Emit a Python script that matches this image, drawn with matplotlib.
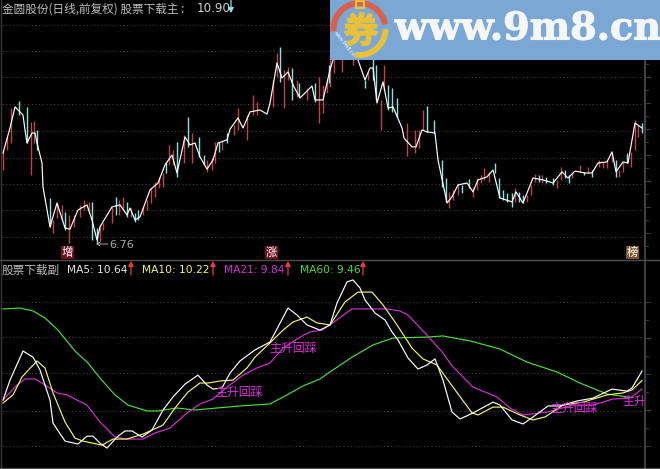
import matplotlib
matplotlib.use('Agg')
import matplotlib.pyplot as plt
import matplotlib.patheffects as pe
from matplotlib.patches import Rectangle, Wedge

plt.rcParams['font.family'] = ['Noto Sans CJK SC', 'DejaVu Sans']

# Price line (bar position, close)
close_x = [3, 10, 15, 23, 25, 27, 32, 35, 37, 42, 43, 50, 57, 65, 70, 78, 87, 92, 97, 100,
           112, 120, 127, 130, 135, 140, 150, 158, 165, 172, 177, 185, 190, 195, 200, 207, 213, 218, 227, 230,
           238, 243, 250, 260, 267, 270, 277, 282, 288, 293, 300, 312, 315, 323, 330, 336, 343, 350, 358, 365,
           370, 373, 377, 383, 388, 393, 402, 404, 412, 416, 422, 427, 435, 438, 447, 452, 458, 467, 473, 478,
           487, 493, 500, 512, 516, 523, 533, 543, 553, 562, 568, 575, 585, 592, 598, 607, 612, 616, 623, 628,
           635, 642]
close = [10.00, 10.90, 11.66, 11.37, 10.83, 10.36, 10.72, 10.72, 10.36, 9.64, 8.78, 7.34, 8.20, 7.30, 7.26, 7.95, 8.13, 7.59, 6.87, 7.34,
         8.06, 8.13, 7.77, 8.02, 7.59, 7.70, 8.67, 8.92, 9.57, 9.93, 9.28, 10.58, 10.29, 10.36, 9.86, 9.42, 9.75, 10.36, 10.47, 10.86,
         11.26, 10.90, 11.48, 11.55, 11.40, 11.80, 13.24, 12.70, 12.92, 12.45, 11.98, 12.41, 11.91, 11.91, 12.99, 13.71, 14.25, 14.00, 13.35, 12.63,
         13.06, 13.06, 11.80, 12.56, 11.62, 11.66, 10.90, 10.54, 10.22, 10.22, 10.83, 10.76, 10.72, 9.75, 8.20, 8.42, 8.85, 8.92, 8.60, 9.03,
         9.14, 9.39, 8.38, 8.24, 8.60, 8.20, 9.10, 9.03, 8.92, 9.32, 9.10, 9.35, 9.28, 9.28, 9.64, 9.68, 10.04, 9.32, 9.68, 9.64,
         11.08, 10.90]

# Up bars
red_x = [3, 7, 11, 31, 34, 53, 57, 62, 69, 74, 80, 84, 89, 100, 103, 112, 119, 123, 131, 143, 147, 151, 155, 159, 163,
         169, 173, 184, 192, 207, 212, 215, 222, 234, 238, 247, 253, 257, 273, 277, 284, 288, 297, 307, 319, 323, 327,
         330, 334, 342, 353, 368, 381, 384, 407, 415, 419, 423, 449, 453, 458, 473, 477, 481, 484, 489, 515, 527, 531,
         535, 542, 557, 561, 572, 580, 588, 599, 603, 607, 612, 619, 623, 631, 635, 638]
red_high = [10.11, 10.58, 11.62, 11.12, 11.15, 7.59, 8.20, 8.13, 7.77, 7.77, 8.13, 8.31, 8.24, 7.41, 7.48, 8.06, 8.31, 8.42, 8.02, 8.06, 8.31, 8.74, 8.96, 9.14, 9.28,
            10.29, 10.11, 10.65, 10.72, 9.75, 9.82, 10.40, 10.47, 11.01, 11.62, 11.37, 12.09, 11.84, 12.63, 13.60, 12.99, 13.10, 12.63, 12.34, 12.74, 12.45, 12.70,
            13.53, 13.71, 14.43, 14.07, 12.92, 11.91, 13.17, 11.08, 10.83, 10.83, 11.55, 8.60, 8.67, 8.92, 8.78, 9.10, 9.21, 9.46, 9.32, 8.74, 8.49, 8.85,
            9.25, 9.21, 9.03, 9.50, 9.32, 9.57, 9.50, 9.75, 9.68, 9.75, 10.04, 9.39, 9.68, 10.04, 11.19, 11.01]
red_low = [9.39, 10.11, 10.36, 9.21, 10.36, 7.12, 7.66, 7.59, 6.76, 7.34, 7.70, 7.95, 7.84, 6.80, 7.23, 7.48, 7.77, 7.95, 7.70, 7.77, 7.95, 8.20, 8.42, 8.74, 8.78,
           9.57, 9.57, 9.64, 9.64, 9.32, 9.39, 9.64, 10.11, 10.65, 10.83, 10.47, 11.37, 11.37, 11.66, 12.74, 11.62, 12.63, 12.02, 11.91, 11.08, 11.44, 12.16,
           12.38, 12.88, 12.92, 13.17, 12.63, 10.83, 12.27, 9.89, 10.00, 10.18, 10.83, 8.02, 8.31, 8.49, 8.42, 8.67, 8.92, 9.03, 8.96, 8.24, 8.24, 8.49,
           8.96, 8.92, 8.74, 9.03, 9.10, 9.32, 9.28, 9.50, 9.46, 9.46, 9.68, 9.14, 9.32, 9.50, 10.11, 10.58]

# Down bars
cyan_x = [19, 27, 37, 50, 65, 92, 97, 116, 127, 135, 138, 166, 177, 188, 199, 204, 219, 227,
          280, 292, 299, 315, 329, 365, 373, 376, 388, 392, 397, 427, 434, 442, 446, 462, 469,
          495, 499, 503, 507, 512, 519, 523, 539, 546, 553, 565, 569, 584, 592, 616, 627, 642]
cyan_high = [11.87, 11.66, 10.83, 8.38, 7.88, 8.24, 7.30, 8.42, 8.24, 7.84, 7.95, 9.68, 10.40, 11.30, 10.58, 9.93, 10.40, 10.72,
             13.82, 13.06, 12.52, 12.52, 13.17, 12.63, 13.53, 13.17, 12.45, 12.34, 11.98, 11.69, 11.19, 9.75, 9.10, 8.85, 9.07,
             9.64, 9.10, 8.67, 8.56, 8.56, 8.60, 8.49, 9.21, 9.14, 9.10, 9.39, 9.21, 9.32, 9.39, 9.75, 10.00, 11.08]
cyan_low = [11.37, 10.36, 10.11, 7.34, 7.23, 6.87, 6.76, 7.77, 7.70, 7.52, 7.59, 9.28, 9.14, 10.22, 9.86, 9.57, 10.04, 10.36,
            12.56, 11.91, 12.02, 11.84, 12.52, 12.34, 12.63, 11.91, 11.55, 11.48, 11.30, 10.76, 10.72, 8.78, 8.24, 8.56, 8.74,
            9.28, 8.38, 8.31, 8.24, 8.06, 8.24, 8.20, 8.96, 8.92, 8.85, 9.10, 8.92, 9.21, 9.14, 9.14, 9.64, 10.72]

# Moving averages in the lower panel
ma5_x = [3, 10, 23, 33, 40, 50, 53, 65, 78, 87, 93, 100, 107, 117, 125, 132, 142, 152, 163, 173, 185, 198, 207, 213, 222, 230, 240, 255, 270, 288, 297, 307, 320, 330,
         337, 347, 353, 360, 365, 375, 385, 392, 398, 408, 418, 427, 435, 443, 452, 460, 473, 493, 500, 512, 523, 533, 548, 560, 577, 593, 612, 627, 632, 642]
ma5 = [9.35, 10.24, 11.53, 11.26, 10.69, 9.35, 8.33, 7.53, 7.40, 7.75, 7.75, 7.44, 7.22, 7.71, 7.98, 7.98, 7.71, 8.02, 8.91, 9.49, 10.06, 10.46, 10.02, 9.84, 9.89, 10.55, 11.09, 11.58, 11.93, 13.44, 13.13, 12.69, 12.46, 12.69,
       13.66, 14.60, 14.69, 14.33, 13.80, 13.22, 12.91, 12.38, 12.02, 11.22, 10.73, 10.91, 11.18, 10.24, 8.82, 8.51, 8.78, 9.26, 9.13, 8.47, 8.29, 8.60, 9.09, 9.09, 9.31, 9.44, 9.84, 9.75, 9.89, 10.64]

ma10_x = [3, 13, 22, 37, 45, 53, 65, 75, 83, 102, 113, 127, 143, 163, 175, 188, 200, 208, 220, 233, 247, 255, 270, 283, 293, 307, 317, 330,
          345, 358, 372, 383, 397, 412, 423, 437, 450, 472, 478, 493, 503, 520, 533, 545, 563, 583, 607, 623, 632, 642]
ma10 = [9.22, 9.58, 10.38, 11.09, 10.78, 9.67, 8.38, 7.66, 7.53, 7.35, 7.62, 7.62, 7.84, 8.24, 9.00, 9.71, 10.11, 10.11, 10.20, 10.24, 10.78, 11.26, 11.89, 12.46, 12.82, 13.04, 12.78, 12.69,
        13.71, 14.15, 14.15, 13.58, 12.69, 11.66, 11.18, 10.91, 10.11, 8.78, 8.69, 9.04, 9.04, 8.69, 8.47, 8.60, 9.13, 9.26, 9.58, 9.67, 9.80, 10.22]

ma21_x = [3, 17, 25, 35, 45, 57, 67, 87, 100, 115, 127, 143, 155, 170, 187, 200, 213, 227, 243, 257, 270, 283, 300, 310, 322, 330,
          352, 372, 387, 400, 408, 427, 443, 452, 473, 497, 510, 523, 547, 573, 593, 613, 630, 642]
ma21 = [9.35, 10.02, 10.29, 10.29, 10.02, 9.67, 9.58, 9.13, 8.38, 7.71, 7.62, 7.62, 7.89, 8.11, 8.78, 9.18, 9.40, 9.93, 10.46, 10.78, 11.00, 11.66, 12.15, 12.38, 12.46, 12.69,
        13.40, 13.40, 13.40, 13.31, 13.13, 12.24, 11.44, 10.87, 9.93, 9.49, 9.00, 8.69, 8.82, 9.13, 9.13, 9.40, 9.44, 9.84]

ma60_x = [3, 20, 33, 45, 58, 75, 88, 100, 115, 128, 147, 158, 177, 195, 217, 240, 270, 287, 303, 320, 330,
          352, 373, 393, 427, 443, 470, 500, 527, 557, 580, 607, 632]
ma60 = [13.40, 13.44, 13.31, 13.00, 12.46, 11.53, 11.00, 10.33, 9.58, 9.13, 8.87, 8.87, 9.00, 8.91, 9.00, 9.09, 9.18, 9.58, 9.98, 10.29, 10.60,
        11.26, 11.80, 12.11, 12.15, 12.20, 11.98, 11.62, 11.04, 10.60, 10.11, 9.62, 9.46]

signal_labels = ['主升回踩', '主升回踩', '主升回踩', '主升']
signal_x = [215, 269, 550, 622]
signal_y = [9.71, 11.66, 8.96, 9.31]

price_grid = [14.61, 13.67, 12.74, 11.77, 10.79, 9.82, 8.89, 7.95, 6.98]
ma_grid = [13.71, 12.15, 10.55, 8.87, 7.31]

W, H = 660, 469
GREY = '#4d4d4d'

fig = plt.figure(figsize=(W / 100, H / 100), dpi=100, facecolor='black')


def panel(top, bottom):
    ax = fig.add_axes([0, 1 - bottom / H, 1, (bottom - top) / H], facecolor='black')
    ax.set_xlim(0, W)
    ax.axis('off')
    return ax


ax1 = panel(0, 260)
ax1.set_ylim(6.148, 15.508)
ax2 = panel(261, 469)
ax2.set_ylim(6.29, 15.53)
ov = fig.add_axes([0, 0, 1, 1], facecolor='none')
ov.set_xlim(0, W)
ov.set_ylim(H, 0)
ov.axis('off')

for ax, levels in [(ax1, price_grid), (ax2, ma_grid)]:
    ax.hlines(levels, 2, 644, colors='#5a5a5a', lw=0.6, linestyles=(0, (1.2, 3.2)))

# Top panel bars and close line
ax1.vlines(red_x, red_low, red_high, colors='#c2424e', lw=1.0)
ax1.vlines(cyan_x, cyan_low, cyan_high, colors='#86e6e2', lw=1.0)
ax1.plot(close_x, close, color='white', lw=0.85)

# Lower panel
ax2.plot(ma60_x, ma60, color='#4fdc3c', lw=0.85)
ax2.plot(ma21_x, ma21, color='#d62fd6', lw=0.85)
ax2.plot(ma10_x, ma10, color='#f5f56a', lw=0.85)
ax2.plot(ma5_x, ma5, color='white', lw=0.85)
for lab, x, y in zip(signal_labels, signal_x, signal_y):
    ax2.text(x, y, lab, color='#e22ee2', fontsize=8.6, va='center', ha='left')

# Frame
ov.plot([1, 1], [0, 469], color='#3a3a3a', lw=1)
ov.plot([644.5, 644.5], [60, 469], color=GREY, lw=1.2)
ov.plot([0, 660], [260.5, 260.5], color=GREY, lw=1)
ov.plot([0, 660], [468, 468], color=GREY, lw=1)
for i, y in enumerate(range(25, 250, 13)):
    ov.plot([645, 650 if i % 2 == 0 else 648], [y, y], color='#3d3d3d', lw=0.7)
for i, y in enumerate(range(302, 460, 18)):
    ov.plot([645, 650 if i % 2 == 0 else 648], [y, y], color='#3d3d3d', lw=0.7)

# Header of upper panel
ov.text(2, 9, '金圆股份(日线,前复权) 股票下载主 :', color='#bdbdbd', fontsize=8.4, va='center')
ov.text(197, 9, '10.90', color='#d0d0d0', fontsize=8.6, va='center', family='DejaVu Sans')
ov.annotate('', xy=(231, 13), xytext=(231, 0),
            arrowprops=dict(arrowstyle='-|>,head_width=0.16,head_length=0.3', color='#86e6e2', lw=0.9, shrinkA=0, shrinkB=0))

# Header of lower panel
ov.text(2, 270, '股票下载副', color='#bdbdbd', fontsize=8.4, va='center')
legend_txt = ['MA5: 10.64', 'MA10: 10.22', 'MA21: 9.84', 'MA60: 9.46']
legend_col = ['#e8e8e8', '#f5f56a', '#d62fd6', '#4fdc3c']
legend_x = [67, 142, 224, 300]
arrow_x = [131, 213, 288, 363]
for t, c, x, ax_x in zip(legend_txt, legend_col, legend_x, arrow_x):
    ov.text(x, 270, t, color=c, fontsize=7.7, va='center', family='DejaVu Sans')
    ov.annotate('', xy=(ax_x, 261), xytext=(ax_x, 275),
                arrowprops=dict(arrowstyle='-|>,head_width=0.16,head_length=0.3', color='#e83a3a', lw=0.9, shrinkA=0, shrinkB=0))

# Badges under the price panel
for lab, x, c in [('增', 61, '#701022'), ('涨', 265, '#701022'), ('榜', 626, '#7d5326')]:
    ov.add_patch(Rectangle((x, 246), 13, 13, color=c, lw=0))
    ov.text(x + 6.5, 252, lab, color='white', fontsize=8.2, ha='center', va='center')

# Lowest price mark
ov.annotate('', xy=(96, 244), xytext=(108, 244),
            arrowprops=dict(arrowstyle='->,head_width=0.12,head_length=0.2', color='#aaaaaa', lw=0.7, shrinkA=0, shrinkB=0))
ov.text(109, 245, '6.76', color='#a8a8a8', fontsize=8, va='center', family='DejaVu Sans')

# Watermark banner
ov.add_patch(Rectangle((330, 0), 330, 60, color='#7ba7d4', lw=0, zorder=5))
ov.add_patch(Wedge((359.5, 29), 29, 175, 350, width=6, color='#d9604c', lw=0, zorder=6))
ov.add_patch(Wedge((359.5, 29), 29, 0, 100, width=6, color='#e8c13c', lw=0, zorder=6))
ov.add_patch(Rectangle((356, 1), 8, 7, fill=False, ec='#e8c13c', lw=1.6, zorder=7))
glyph = ov.text(361, 32, '券', color='#e8c13c', fontsize=25, fontweight='bold', ha='center', va='center', zorder=7)
glyph.set_path_effects([pe.withStroke(linewidth=1.0, foreground='#e8c13c')])
ov.text(344, 44, 'www.9m8.cn', color='white', fontsize=3.4, rotation=-52, ha='center', va='center',
        family='DejaVu Sans', zorder=7)
site = ov.text(395, 29, 'www.9m8.cn', color='#f4f6f8', fontsize=27.5, fontweight='bold', va='center',
               family='DejaVu Serif', zorder=7)
site.set_path_effects([pe.withStroke(linewidth=0.8, foreground='#f4f6f8')])

fig.savefig('out.png', dpi=100, facecolor='black')
